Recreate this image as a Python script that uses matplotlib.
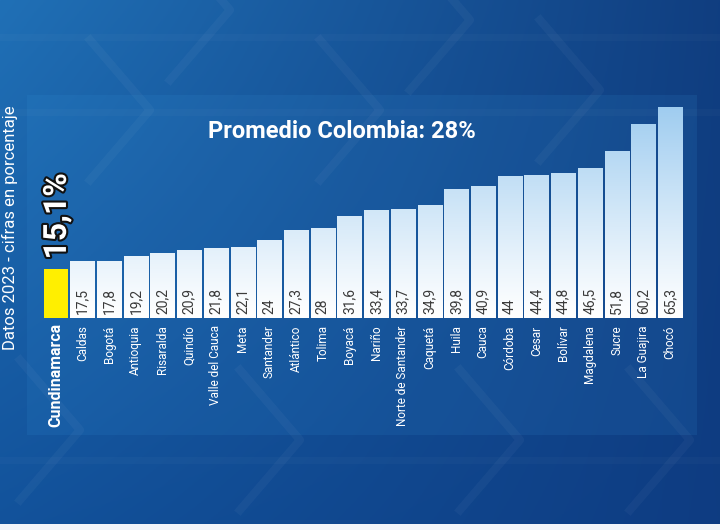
import matplotlib
matplotlib.use("Agg")
import matplotlib.pyplot as plt
import matplotlib.patheffects as pe
import numpy as np
from matplotlib.patches import Rectangle

departamentos = ["Cundinamarca", "Caldas", "Bogotá", "Antioquia", "Risaralda", "Quindío",
                 "Valle del Cauca", "Meta", "Santander", "Atlántico", "Tolima", "Boyacá",
                 "Nariño", "Norte de Santander", "Caquetá", "Huila", "Cauca", "Córdoba",
                 "Cesar", "Bolívar", "Magdalena", "Sucre", "La Guajira", "Chocó"]
valores = [15.1, 17.5, 17.8, 19.2, 20.2, 20.9, 21.8, 22.1, 24, 27.3, 28, 31.6, 33.4,
           33.7, 34.9, 39.8, 40.9, 44, 44.4, 44.8, 46.5, 51.8, 60.2, 65.3]
etiquetas = ["15,1%", "17,5", "17,8", "19,2", "20,2", "20,9", "21,8", "22,1", "24", "27,3",
             "28", "31,6", "33,4", "33,7", "34,9", "39,8", "40,9", "44", "44,4", "44,8",
             "46,5", "51,8", "60,2", "65,3"]
titulo = "Promedio Colombia: 28%"
nota = "Datos 2023 - cifras en porcentaje"

W, H = 720, 530
fig = plt.figure(figsize=(W / 100, H / 100), dpi=100)

# background gradient
bg = fig.add_axes([0, 0, 1, 1])
yy, xx = np.mgrid[0:1:200j, 0:1:300j]
c_tl = np.array([32, 112, 182]) / 255
c_tr = np.array([16, 62, 128]) / 255
c_bl = np.array([18, 82, 155]) / 255
c_br = np.array([14, 60, 130]) / 255
img = ((1 - xx)[..., None] * (1 - yy)[..., None] * c_tl + xx[..., None] * (1 - yy)[..., None] * c_tr
       + (1 - xx)[..., None] * yy[..., None] * c_bl + xx[..., None] * yy[..., None] * c_br)
bg.imshow(img, extent=(0, W, H, 0), aspect="auto")
bg.set_xlim(0, W)
bg.set_ylim(H, 0)
bg.axis("off")

# faint chevrons
for cx, cy in [(150, 110), (380, 110), (600, 90), (80, 430), (300, 440), (520, 440), (690, 440),
               (230, 10), (470, 20)]:
    bg.plot([cx - 60, cx, cx - 60], [cy - 70, cy, cy + 70], color="white", alpha=0.035, lw=6)
for yl in [37, 112, 460]:
    bg.plot([0, W], [yl, yl], color="white", alpha=0.025, lw=5)

# lighter panel
bg.add_patch(Rectangle((27, 95), 670, 340, facecolor="#3a9ae0", alpha=0.12, edgecolor="none"))
# white strip at the bottom
bg.add_patch(Rectangle((0, 524), W, 6, facecolor="#f2f5fa", edgecolor="none"))

# bar axes
x0, x1, ytop, ybase = 27, 697, 95, 318
ax = fig.add_axes([x0 / W, (H - ybase) / H, (x1 - x0) / W, (ybase - ytop) / H])
ax.patch.set_alpha(0)
step = 24.76
xlim = (-(53.5 - x0) / step, len(valores) - 1 + (x1 - 672) / step)
ymax = (ybase - ytop) / 3.23
ax.axis("off")

x = np.arange(len(valores))
colores = ["#ffef00"] + ["white"] * (len(valores) - 1)
bars = ax.bar(x, valores, width=0.9, color=colores, edgecolor="none", zorder=2)

grad = np.linspace(0, 1, 256)[:, None]
c_low = np.array([1.0, 1.0, 1.0])
c_high = np.array([0.62, 0.80, 0.94])
gimg = c_low + (c_high - c_low) * grad[..., None] ** 1.1
for b in bars[1:]:
    im = ax.imshow(gimg, extent=(-1.5, len(valores) + 1, 0, 66), origin="lower",
                   aspect="auto", zorder=3)
    im.set_clip_path(b)
ax.set_xlim(*xlim)
ax.set_ylim(0, ymax)

cond = ["Liberation Sans Narrow", "Roboto", "DejaVu Sans"]
for i in range(1, len(valores)):
    ax.text(x[i], 1.2, etiquetas[i], rotation=90, ha="center", va="bottom",
            fontsize=10, color="#3a3a3a", family=cond, zorder=4)
    ax.text(x[i], -2.3, departamentos[i], rotation=90, ha="center", va="top",
            fontsize=8.5, color="white", family=cond, zorder=4)

ax.text(x[0], -1.6, departamentos[0], rotation=90, ha="center", va="top",
        fontsize=11.5, color="white", fontweight="bold", family=["Roboto", "DejaVu Sans"])
ax.text(x[0] + 0.05, valores[0] + 3, etiquetas[0], rotation=90, ha="center", va="bottom",
        fontsize=23, color="white", fontweight="bold", family=cond,
        path_effects=[pe.withStroke(linewidth=3, foreground="#111111")], zorder=5)

fig.text(342 / W, 1 - 131 / H, titulo, ha="center", va="center", fontsize=17,
         color="white", fontweight="bold", family=["Roboto", "DejaVu Sans"])
fig.text(2 / W, 1 - 228 / H, nota, rotation=90, ha="left", va="center", fontsize=12,
         color="white", family=cond)

fig.savefig("out.png", dpi=100)
